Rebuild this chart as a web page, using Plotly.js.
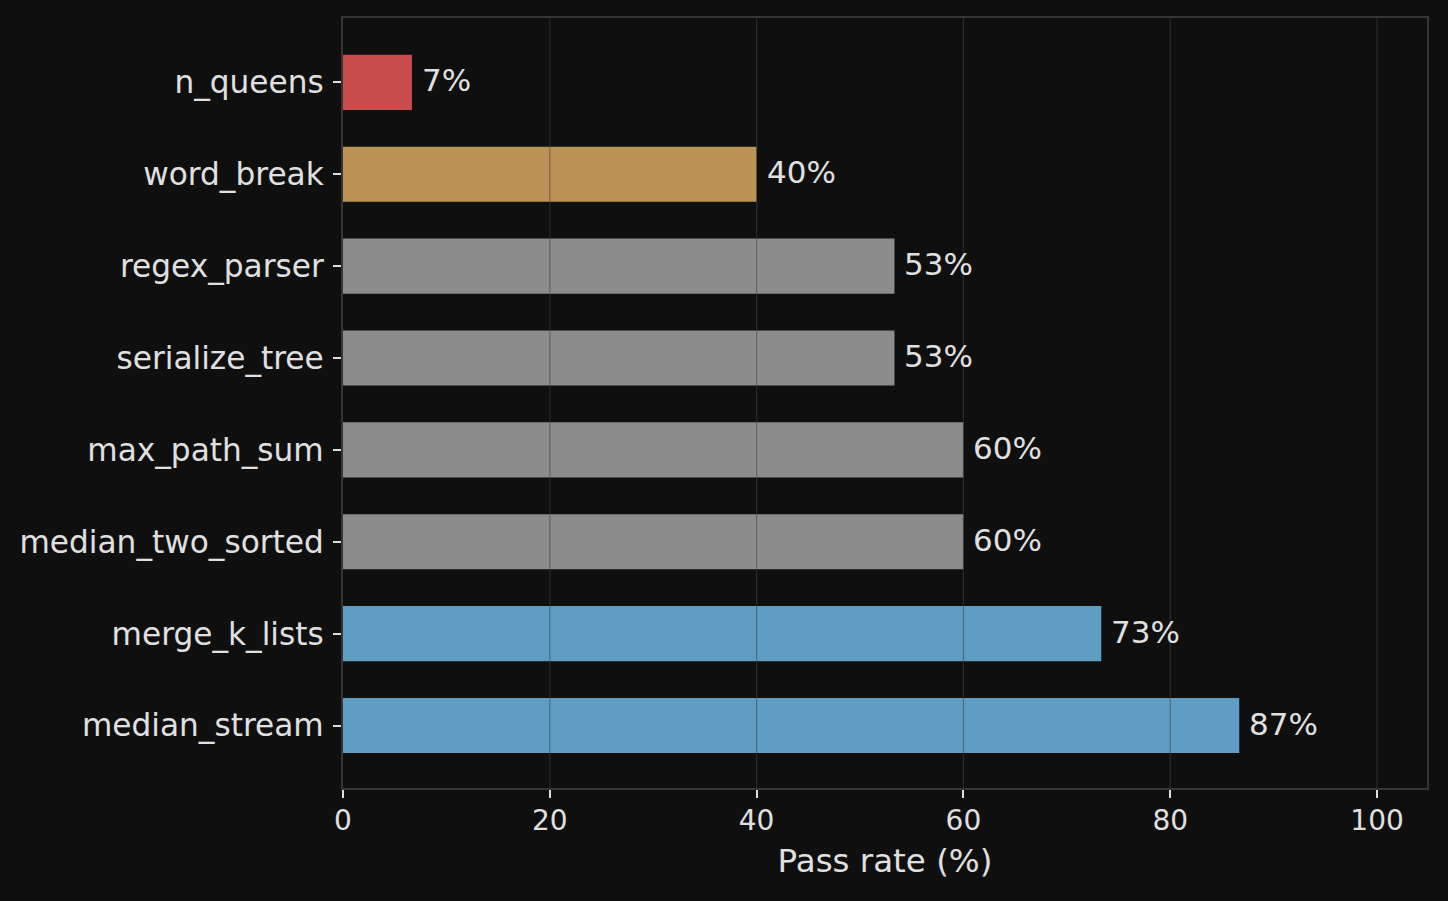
<!DOCTYPE html>
<html>
<head>
<meta charset="utf-8">
<script src="https://cdn.plot.ly/plotly-3.0.1.min.js"></script>
<style>
  html, body { margin: 0; padding: 0; background: #0f0f0f; }
  #chart { width: 1448px; height: 901px; }
</style>
</head>
<body>
<div id="chart"></div>
<script>
// Data (top to bottom)
const tasks = ["n_queens", "word_break", "regex_parser", "serialize_tree", "max_path_sum", "median_two_sorted", "merge_k_lists", "median_stream"];
const passRates = [6.67, 40.0, 53.33, 53.33, 60.0, 60.0, 73.33, 86.67];
const barColors = ["#c84c4c", "#bc9357", "#8c8c8c", "#8c8c8c", "#8c8c8c", "#8c8c8c", "#5f9ec2", "#5f9ec2"];
const xTicks = [0, 20, 40, 60, 80, 100];
const gridTicks = [20, 40, 60, 80, 100];

const FONT = "DejaVu Sans, sans-serif";
const TEXT = "#e0e0e0";

const trace = {
  type: "bar",
  orientation: "h",
  y: tasks,
  x: passRates,
  width: 0.6,
  marker: { color: barColors, line: { width: 0 } },
  hoverinfo: "skip"
};

const annotations = tasks.map((t, i) => ({
  x: passRates[i],
  y: t,
  xref: "x",
  yref: "y",
  text: Math.round(passRates[i]) + "%",
  showarrow: false,
  xanchor: "left",
  yanchor: "middle",
  xshift: 8,
  yshift: 2,
  font: { family: FONT, size: 31, color: TEXT }
}));

const shapes = gridTicks.map(v => ({
  type: "line",
  xref: "x",
  yref: "paper",
  x0: v, x1: v, y0: 0, y1: 1,
  layer: "above",
  line: { color: "rgba(66,66,66,0.55)", width: 1.2 }
}));

const layout = {
  width: 1448,
  height: 901,
  paper_bgcolor: "#0f0f0f",
  plot_bgcolor: "#0f0f0f",
  margin: { l: 343, r: 21, t: 18, b: 113, pad: 0 },
  showlegend: false,
  font: { family: FONT, color: TEXT },
  xaxis: {
    range: [0, 104.83],
    tickvals: xTicks,
    ticktext: xTicks.map(String),
    ticks: "outside",
    ticklen: 8,
    tickwidth: 2,
    tickcolor: "#dddddd",
    ticklabelstandoff: -2,
    tickfont: { family: FONT, size: 28, color: TEXT },
    showgrid: false,
    zeroline: false,
    showline: true,
    linecolor: "#353535",
    linewidth: 2,
    mirror: true,
    title: { text: "Pass rate (%)", font: { family: FONT, size: 32.5, color: TEXT }, standoff: 14 }
  },
  yaxis: {
    type: "category",
    categoryorder: "array",
    categoryarray: tasks,
    range: [7.68, -0.7],
    ticks: "outside",
    ticklen: 8,
    tickwidth: 2,
    tickcolor: "#dddddd",
    ticklabelstandoff: 3,
    tickfont: { family: FONT, size: 31.2, color: TEXT },
    showgrid: false,
    zeroline: false,
    showline: true,
    linecolor: "#353535",
    linewidth: 2,
    mirror: true
  },
  annotations: annotations,
  shapes: shapes
};

Plotly.newPlot("chart", [trace], layout, { displayModeBar: false, staticPlot: true });
</script>
</body>
</html>
